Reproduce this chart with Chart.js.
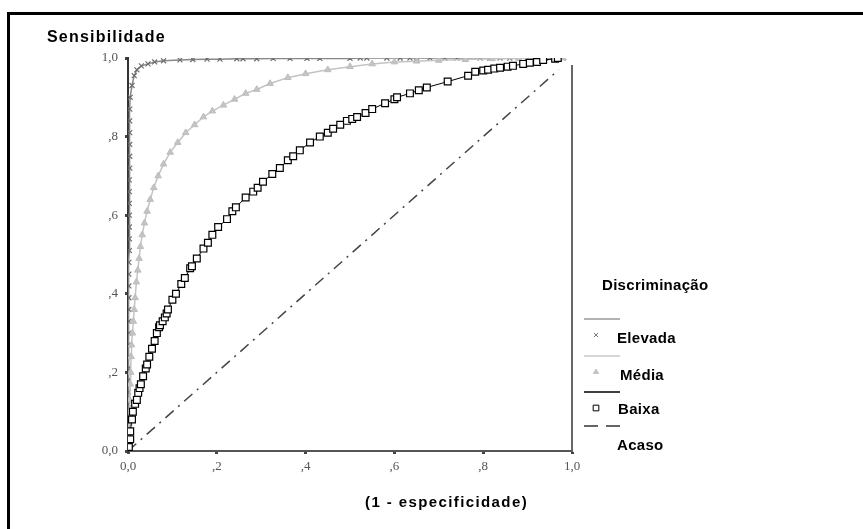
<!DOCTYPE html>
<html>
<head>
<meta charset="utf-8">
<script src="https://cdn.jsdelivr.net/npm/chart.js@4.4.1/dist/chart.umd.min.js"></script>
<style>
  html, body { margin: 0; padding: 0; background: #fff; }
  #roc { display: block; }
</style>
</head>
<body>
<canvas id="roc" width="863" height="529"></canvas>
<script>
// curvas ROC: [1 - especificidade, sensibilidade]
const elevada = [
  [0, 0], [0, 0.03], [0, 0.06], [0, 0.09], [0.001, 0.12], [0.001, 0.15], [0.001, 0.18],
  [0.001, 0.21], [0.001, 0.24], [0.001, 0.27], [0.002, 0.3], [0.002, 0.33], [0.002, 0.36],
  [0.002, 0.39], [0.002, 0.42], [0.002, 0.45], [0.002, 0.48], [0.003, 0.51], [0.003, 0.54],
  [0.003, 0.57], [0.003, 0.6], [0.003, 0.63], [0.003, 0.66], [0.003, 0.69], [0.004, 0.72],
  [0.004, 0.75], [0.004, 0.78], [0.004, 0.81], [0.004, 0.84], [0.004, 0.87],
  [0.005, 0.9], [0.009, 0.93], [0.014, 0.955], [0.02, 0.97], [0.03, 0.98], [0.045, 0.985],
  [0.06, 0.99], [0.08, 0.993], [0.117, 0.995], [0.146, 0.996], [0.178, 0.997], [0.207, 0.997],
  [0.245, 0.998], [0.259, 0.998], [0.29, 0.998], [0.327, 0.999], [0.365, 0.999], [0.403, 0.999],
  [0.432, 0.999], [0.5, 0.999], [0.523, 1], [0.538, 1], [0.583, 1], [0.613, 1], [0.635, 1],
  [0.65, 1], [0.68, 1], [0.714, 1], [0.741, 1], [0.793, 1], [0.815, 1], [0.838, 1], [0.86, 1],
  [0.899, 1], [0.928, 1], [0.95, 1], [0.98, 1]
];
const media = [
  [0, 0], [0.001, 0.03], [0.002, 0.07], [0.003, 0.1], [0.004, 0.13], [0.005, 0.17],
  [0.006, 0.2], [0.007, 0.24], [0.008, 0.27], [0.01, 0.3], [0.012, 0.33], [0.014, 0.36],
  [0.016, 0.39], [0.019, 0.43], [0.022, 0.46], [0.025, 0.49], [0.028, 0.52], [0.032, 0.55],
  [0.037, 0.58], [0.043, 0.61], [0.05, 0.64], [0.058, 0.67], [0.068, 0.7], [0.08, 0.73],
  [0.095, 0.76], [0.112, 0.785], [0.13, 0.81], [0.15, 0.83], [0.17, 0.85], [0.19, 0.865],
  [0.215, 0.88], [0.24, 0.895], [0.265, 0.91], [0.29, 0.92], [0.32, 0.935], [0.36, 0.95],
  [0.4, 0.96], [0.45, 0.97], [0.5, 0.978], [0.55, 0.985], [0.6, 0.99], [0.65, 0.992],
  [0.7, 0.994], [0.76, 0.996], [0.82, 0.998], [0.88, 0.999], [0.93, 1], [0.98, 1]
];
const baixa = [
  [0, 0], [0.002, 0.01], [0.005, 0.03], [0.005, 0.05], [0.009, 0.08], [0.011, 0.1],
  [0.016, 0.12], [0.02, 0.13], [0.023, 0.148], [0.026, 0.16], [0.029, 0.17], [0.034, 0.19],
  [0.04, 0.21], [0.043, 0.22], [0.048, 0.24], [0.054, 0.26], [0.06, 0.28], [0.065, 0.3],
  [0.07, 0.315], [0.072, 0.32], [0.078, 0.33], [0.083, 0.34], [0.087, 0.35], [0.09, 0.36],
  [0.1, 0.385], [0.108, 0.4], [0.12, 0.425], [0.128, 0.44], [0.14, 0.465], [0.144, 0.47],
  [0.155, 0.49], [0.17, 0.515], [0.18, 0.53], [0.19, 0.55], [0.203, 0.57], [0.223, 0.59],
  [0.235, 0.61], [0.243, 0.62], [0.265, 0.645], [0.282, 0.66], [0.292, 0.67], [0.304, 0.685],
  [0.325, 0.705], [0.342, 0.72], [0.36, 0.74], [0.372, 0.75], [0.387, 0.765], [0.41, 0.785],
  [0.432, 0.8], [0.45, 0.81], [0.462, 0.82], [0.478, 0.83], [0.493, 0.84], [0.505, 0.845],
  [0.516, 0.85], [0.535, 0.86], [0.55, 0.87], [0.579, 0.885], [0.6, 0.895], [0.606, 0.9],
  [0.635, 0.91], [0.655, 0.918], [0.673, 0.925], [0.72, 0.94], [0.766, 0.955], [0.782, 0.965],
  [0.8, 0.968], [0.811, 0.97], [0.825, 0.973], [0.838, 0.975], [0.855, 0.978], [0.867, 0.98],
  [0.89, 0.985], [0.905, 0.988], [0.921, 0.99], [0.935, 0.995], [0.962, 0.998], [0.968, 1]
];
const acaso = [[0, 0], [0.97, 0.97]];

const tickLabels = ["0,0", ",2", ",4", ",6", ",8", "1,0"];
const legendLabels = ["Elevada", "Média", "Baixa", "Acaso"];
const legendTitle = "Discriminação";
const yTitle = "Sensibilidade";
const xTitle = "(1 - especificidade)";

const toPoints = (arr) => arr.map((p) => ({ x: p[0], y: p[1] }));

function tickText(value) {
  const i = Math.round(value * 5);
  return tickLabels[i] !== undefined ? tickLabels[i] : "";
}

// moldura, titulos dos eixos e legenda
const decor = {
  id: "decor",
  afterDraw(chart) {
    const ctx = chart.ctx;
    const xs = chart.scales.x;
    const ys = chart.scales.y;
    ctx.save();

    // moldura exterior (so topo e esquerda)
    ctx.fillStyle = "#000";
    ctx.fillRect(7, 12, 856, 3);
    ctx.fillRect(7, 12, 3, 517);

    // linha da direita do grafico
    ctx.strokeStyle = "#666";
    ctx.lineWidth = 2;
    ctx.beginPath();
    ctx.moveTo(xs.getPixelForValue(1), ys.getPixelForValue(0));
    ctx.lineTo(xs.getPixelForValue(1), ys.getPixelForValue(0.982));
    ctx.stroke();

    ctx.fillStyle = "#000";
    ctx.textBaseline = "alphabetic";
    ctx.font = 'bold 16px "Liberation Sans", Arial, sans-serif';
    ctx.letterSpacing = "1.2px";
    ctx.fillText(yTitle, 47, 42);
    ctx.font = 'bold 15px "Liberation Sans", Arial, sans-serif';
    ctx.letterSpacing = "1.4px";
    ctx.fillText(xTitle, 365, 507);

    ctx.letterSpacing = "0.3px";
    ctx.fillText(legendTitle, 602, 290);

    const rows = [
      { lineY: 319, mark: "crossRot", markColor: "#777", lineColor: "#999", textX: 617, textY: 343 },
      { lineY: 356, mark: "triangle", markColor: "#c4c4c4", lineColor: "#c8c8c8", textX: 620, textY: 380 },
      { lineY: 392, mark: "rect", markColor: "#000", lineColor: "#000", textX: 618, textY: 414 },
      { lineY: 426, mark: null, markColor: "#000", lineColor: "#333", textX: 617, textY: 450 }
    ];
    rows.forEach((r, i) => {
      ctx.strokeStyle = r.lineColor;
      ctx.lineWidth = 1.5;
      ctx.setLineDash(r.mark ? [] : [14, 8]);
      ctx.beginPath();
      ctx.moveTo(584, r.lineY);
      ctx.lineTo(620, r.lineY);
      ctx.stroke();
      ctx.setLineDash([]);
      if (r.mark) {
        ctx.lineWidth = 1;
        ctx.strokeStyle = r.markColor;
        ctx.fillStyle = r.mark === "rect" ? "#fff" : r.markColor;
        Chart.helpers.drawPoint(ctx, { pointStyle: r.mark, radius: r.mark === "rect" ? 4 : 3, rotation: 0, borderWidth: 1 }, 596, r.lineY + 16);
      }
      ctx.fillStyle = "#000";
      ctx.fillText(legendLabels[i], r.textX, r.textY);
    });

    ctx.restore();
  }
};

new Chart(document.getElementById("roc"), {
  type: "scatter",
  data: {
    datasets: [
      {
        label: legendLabels[2],
        data: toPoints(baixa),
        showLine: true,
        borderColor: "#000",
        borderWidth: 1,
        pointStyle: "rect",
        pointRadius: 4.8,
        pointBorderWidth: 1.2,
        pointBorderColor: "#000",
        pointBackgroundColor: "#fff",
        order: 1
      },
      {
        label: legendLabels[1],
        data: toPoints(media),
        showLine: true,
        borderColor: "#c4c4c4",
        borderWidth: 1.5,
        pointStyle: "triangle",
        pointRadius: 3.8,
        pointBorderWidth: 1,
        pointBorderColor: "#bdbdbd",
        pointBackgroundColor: "#c4c4c4",
        order: 2
      },
      {
        label: legendLabels[0],
        data: toPoints(elevada),
        showLine: true,
        borderColor: "#888",
        borderWidth: 1.5,
        pointStyle: "crossRot",
        pointRadius: 3.5,
        pointBorderWidth: 1.2,
        pointBorderColor: "#6e6e6e",
        order: 3
      },
      {
        label: legendLabels[3],
        data: toPoints(acaso),
        showLine: true,
        borderColor: "#444",
        borderWidth: 1.5,
        borderDash: [11, 6, 2, 6],
        pointRadius: 0,
        order: 4
      }
    ]
  },
  options: {
    responsive: false,
    animation: false,
    layout: { padding: { top: 58, right: 291, bottom: 0, left: 0 } },
    plugins: {
      legend: { display: false },
      tooltip: { enabled: false }
    },
    scales: {
      x: {
        type: "linear",
        min: 0,
        max: 1,
        afterFit: (scale) => { scale.height = 78; },
        border: { display: true, color: "#555", width: 2 },
        grid: { drawOnChartArea: false, drawTicks: true, tickLength: 3, tickWidth: 3, tickColor: "#444" },
        ticks: {
          stepSize: 0.2,
          padding: 5,
          maxRotation: 0,
          color: "#555",
          font: { family: '"Liberation Serif", "Times New Roman", serif', size: 13 },
          callback: (v) => tickText(v)
        }
      },
      y: {
        type: "linear",
        min: 0,
        max: 1,
        afterFit: (scale) => { scale.width = 128; },
        border: { display: true, color: "#333", width: 2 },
        grid: { drawOnChartArea: false, drawTicks: true, tickLength: 3, tickWidth: 3, tickColor: "#444" },
        ticks: {
          stepSize: 0.2,
          padding: 7,
          color: "#555",
          font: { family: '"Liberation Serif", "Times New Roman", serif', size: 13 },
          callback: (v) => tickText(v)
        }
      }
    }
  },
  plugins: [decor]
});
</script>
</body>
</html>
